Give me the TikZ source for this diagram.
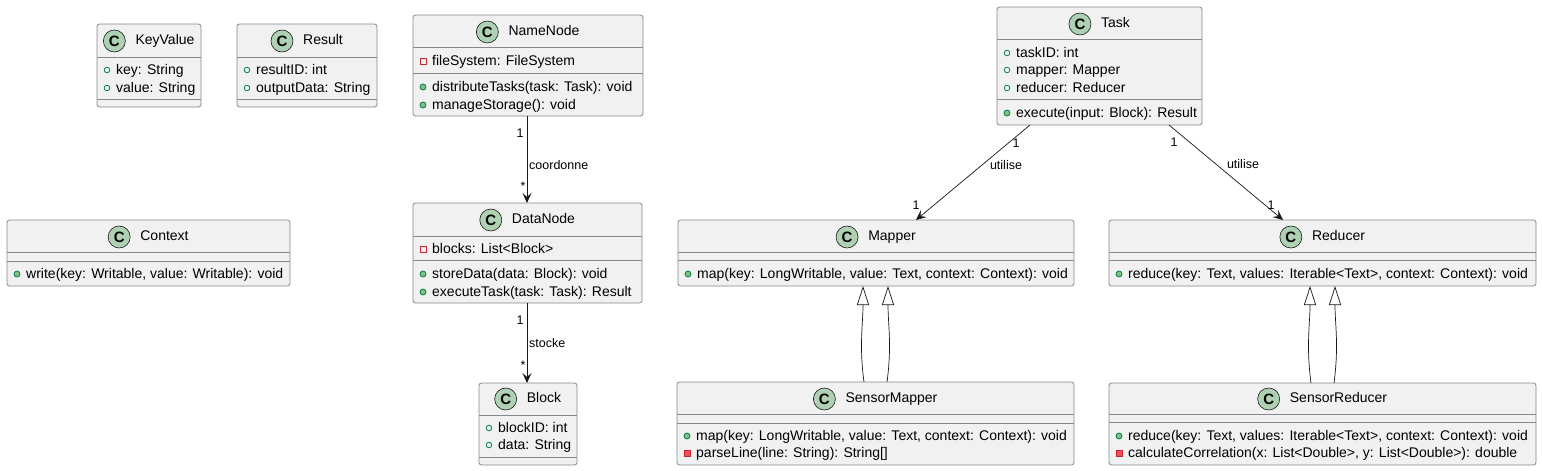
\documentclass[tikz,border=0pt]{standalone}
\usepackage{fontspec}
\setmainfont{Liberation Sans}
\usetikzlibrary{arrows.meta}
\definecolor{boxfill}{HTML}{F1F1F1}
\definecolor{boxline}{HTML}{888888}
\definecolor{darkline}{HTML}{181818}
\definecolor{iconfill}{HTML}{ADD1B2}
\definecolor{publine}{HTML}{038048}
\definecolor{pubfill}{HTML}{84BE84}
\definecolor{privline}{HTML}{C82930}
\definecolor{privfill}{HTML}{F24D5C}
\tikzset{
  classbox/.style={draw=boxline, fill=boxfill, line width=0.8pt, rounded corners=2.5pt, inner sep=0pt, outer sep=0pt},
  sepline/.style={draw=boxline, line width=0.8pt},
  titletext/.style={inner sep=0pt, font=\fontsize{14}{16}\selectfont, text height=10.5pt, text depth=3pt},
  cicon/.style={circle, draw=darkline, fill=iconfill, line width=0.6pt, minimum size=22pt, inner sep=0pt, font=\fontsize{15}{16}\selectfont\bfseries},
  membertext/.style={anchor=west, inner sep=0pt, font=\fontsize{14}{16}\selectfont, text height=10.5pt, text depth=1.5pt},
  lbl/.style={inner sep=0pt, font=\fontsize{12.5}{14}\selectfont},
  assoc/.style={draw=darkline, line width=0.9pt, -{Stealth[length=10pt, width=9pt, inset=4pt]}},
  gener/.style={draw=darkline, line width=0.7pt, -{Triangle[open, length=19pt, width=12pt]}},
}
\newcommand\ClassBox[7]{%
  \pgfmathsetmacro\cbW{#4-#2}\pgfmathsetmacro\cbH{#5-#3}%
  \node[classbox, minimum width=\cbW pt, minimum height=\cbH pt, anchor=north west] (#1) at (#2,#3) {};
  \node[titletext] (#1-t) at ({(#2+#4)/2+16},#7) {#6};
  \node[cicon] (#1-c) at ([xshift=-21pt]#1-t.west) {C};
}
\newcommand\SepLine[3]{\draw[sepline] (#1.west |- 0,#3) -- (#1.east |- 0,#3);}
\newcommand\iconpubf[2]{\draw[publine, line width=0.8pt] (#1,#2) circle (2.8pt);}
\newcommand\iconpubm[2]{\draw[publine, fill=pubfill, line width=0.8pt] (#1,#2) circle (3pt);}
\newcommand\iconprivf[2]{\draw[privline, line width=0.8pt] (#1,#2) ++(-3pt,-3pt) rectangle ++(6pt,6pt);}
\newcommand\iconprivm[2]{\draw[privline, fill=privfill, line width=0.8pt] (#1,#2) ++(-3pt,-3pt) rectangle ++(6pt,6pt);}
\newcommand\Member[5]{%
  \node[membertext] (#1) at (#2+19,#3) {#5};
  \csname icon#4\endcsname{#2+10}{#3}%
}
\begin{document}
\begin{tikzpicture}[x=1pt, y=-1pt]
\fill[white] (0,0) rectangle (1542,471);
\useasboundingbox (0,0) rectangle (1542,471);

% KeyValue
\ClassBox{kv}{97}{24}{201}{107}{KeyValue}{41}
\SepLine{kv}{0}{57}\SepLine{kv}{0}{99}
\Member{kv1}{97}{70}{pubf}{key: String}
\Member{kv2}{97}{88}{pubf}{value: String}

% Result
\ClassBox{res}{237}{24}{377}{107}{Result}{41}
\SepLine{res}{0}{57}\SepLine{res}{0}{99}
\Member{res1}{237}{70}{pubf}{resultID: int}
\Member{res2}{237}{88}{pubf}{outputData: String}

% Context
\ClassBox{ctx}{7}{220}{290}{286}{Context}{237}
\SepLine{ctx}{0}{252}\SepLine{ctx}{0}{261}
\Member{ctx1}{7}{274}{pubm}{write(key: Writable, value: Writable): void}

% NameNode
\ClassBox{nn}{413}{15}{643}{116}{NameNode}{32}
\SepLine{nn}{0}{47}\SepLine{nn}{0}{73}
\Member{nn1}{413}{61}{privf}{fileSystem: FileSystem}
\Member{nn2}{413}{87}{pubm}{distributeTasks(task: Task): void}
\Member{nn3}{413}{105}{pubm}{manageStorage(): void}

% DataNode
\ClassBox{dn}{413}{203}{642}{303}{DataNode}{220}
\SepLine{dn}{0}{236}\SepLine{dn}{0}{260}
\Member{dn1}{413}{249}{privf}{blocks: List<Block>}
\Member{dn2}{413}{274}{pubm}{storeData(data: Block): void}
\Member{dn3}{413}{292}{pubm}{executeTask(task: Task): Result}

% Block
\ClassBox{blk}{479}{383}{577}{465}{Block}{399}
\SepLine{blk}{0}{415}\SepLine{blk}{0}{457}
\Member{blk1}{479}{428}{pubf}{blockID: int}
\Member{blk2}{479}{445}{pubf}{data: String}

% Task
\ClassBox{task}{997}{7}{1202}{125}{Task}{24}
\SepLine{task}{0}{39}\SepLine{task}{0}{99}
\Member{task1}{997}{53}{pubf}{taskID: int}
\Member{task2}{997}{70}{pubf}{mapper: Mapper}
\Member{task3}{997}{88}{pubf}{reducer: Reducer}
\Member{task4}{997}{113}{pubm}{execute(input: Block): Result}

% Mapper
\ClassBox{map}{678}{220}{1074}{286}{Mapper}{237}
\SepLine{map}{0}{252}\SepLine{map}{0}{260}
\Member{map1}{678}{274}{pubm}{map(key: LongWritable, value: Text, context: Context): void}

% Reducer
\ClassBox{red}{1109}{220}{1536}{286}{Reducer}{237}
\SepLine{red}{0}{252}\SepLine{red}{0}{260}
\Member{red1}{1109}{274}{pubm}{reduce(key: Text, values: Iterable<Text>, context: Context): void}

% SensorMapper
\ClassBox{smap}{677}{382}{1074}{465}{SensorMapper}{399}
\SepLine{smap}{0}{414}\SepLine{smap}{0}{423}
\Member{smap1}{677}{436}{pubm}{map(key: LongWritable, value: Text, context: Context): void}
\Member{smap2}{677}{453}{privm}{parseLine(line: String): String[]}

% SensorReducer
\ClassBox{sred}{1109}{383}{1536}{465}{SensorReducer}{399}
\SepLine{sred}{0}{414}\SepLine{sred}{0}{422}
\Member{sred1}{1109}{436}{pubm}{reduce(key: Text, values: Iterable<Text>, context: Context): void}
\Member{sred2}{1109}{453}{privm}{calculateCorrelation(x: List<Double>, y: List<Double>): double}

% connector end points
\coordinate (nnS) at (527,116);
\coordinate (dnN) at (527,203);
\coordinate (dnS) at (527,303);
\coordinate (blkN) at (527,383);
\coordinate (taskA) at (1030,125);
\coordinate (mapN) at (916,220);
\coordinate (taskB) at (1169,125);
\coordinate (redN) at (1283,220);
\coordinate (smapA) at (864,382);
\coordinate (mapA) at (863,286);
\coordinate (smapB) at (887,382);
\coordinate (mapB) at (888,286);
\coordinate (sredA) at (1311,383);
\coordinate (redA) at (1310,286);
\coordinate (sredB) at (1334,383);
\coordinate (redB) at (1335,286);

% associations
\draw[assoc] (nnS) -- (dnN);
\node[lbl] (m1) at (520,133) {1};
\node[lbl, anchor=west] (l1) at (529,165) {coordonne};
\node[lbl] (m2) at (523,186) {*};

\draw[assoc] (dnS) -- (blkN);
\node[lbl] (m3) at (520,320) {1};
\node[lbl, anchor=west] (l2) at (529,343) {stocke};
\node[lbl] (m4) at (523,365) {*};

\draw[assoc, line width=0.7pt] (taskA) -- (mapN);
\node[lbl] (m5) at (1016,143) {1};
\node[lbl] (l3) at (1006,165) {utilise};
\node[lbl] (m6) at (916,205) {1};

\draw[assoc, line width=0.7pt] (taskB) -- (redN);
\node[lbl] (m7) at (1174,142) {1};
\node[lbl] (l4) at (1243,164) {utilise};
\node[lbl] (m8) at (1271,205) {1};

% generalizations
\draw[gener] (smapA) .. controls (859,345) and (863,325) .. (mapA);
\draw[gener] (smapB) .. controls (892,345) and (888,325) .. (mapB);
\draw[gener] (sredA) .. controls (1306,345) and (1310,325) .. (redA);
\draw[gener] (sredB) .. controls (1339,345) and (1335,325) .. (redB);
\end{tikzpicture}
\end{document}
